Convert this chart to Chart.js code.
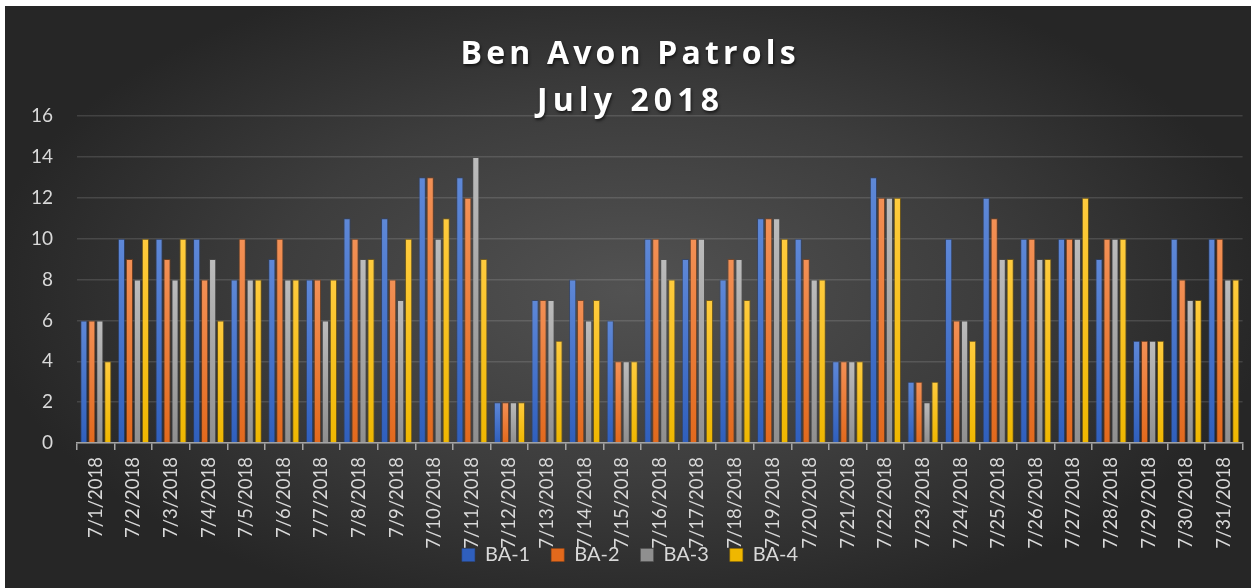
<!DOCTYPE html>
<html>
<head>
<meta charset="utf-8">
<script src="https://cdn.jsdelivr.net/npm/chart.js@4.4.1/dist/chart.umd.min.js"></script>
<style>
	body { margin: 0; background: #fff; }
	#wrap { width: 1253px; height: 588px; position: relative; }
</style>
</head>
<body>
<div id="wrap"><canvas id="canvas0"></canvas></div>
<script>
// Patrol counts per day
var days = ['7/1/2018', '7/2/2018', '7/3/2018', '7/4/2018', '7/5/2018', '7/6/2018', '7/7/2018', '7/8/2018',
	'7/9/2018', '7/10/2018', '7/11/2018', '7/12/2018', '7/13/2018', '7/14/2018', '7/15/2018', '7/16/2018',
	'7/17/2018', '7/18/2018', '7/19/2018', '7/20/2018', '7/21/2018', '7/22/2018', '7/23/2018', '7/24/2018',
	'7/25/2018', '7/26/2018', '7/27/2018', '7/28/2018', '7/29/2018', '7/30/2018', '7/31/2018'];
var ba1 = [6, 10, 10, 10, 8, 9, 8, 11, 11, 13, 13, 2, 7, 8, 6, 10, 9, 8, 11, 10, 4, 13, 3, 10, 12, 10, 10, 9, 5, 10, 10];
var ba2 = [6, 9, 9, 8, 10, 10, 8, 10, 8, 13, 12, 2, 7, 7, 4, 10, 10, 9, 11, 9, 4, 12, 3, 6, 11, 10, 10, 10, 5, 8, 10];
var ba3 = [6, 8, 8, 9, 8, 8, 6, 9, 7, 10, 14, 2, 7, 6, 4, 9, 10, 9, 11, 8, 4, 12, 2, 6, 9, 9, 10, 10, 5, 7, 8];
var ba4 = [4, 10, 10, 6, 8, 8, 8, 9, 10, 11, 9, 2, 5, 7, 4, 8, 7, 7, 10, 8, 4, 12, 3, 5, 9, 9, 12, 10, 5, 7, 8];
var titleLines = ['Ben Avon Patrols', 'July 2018'];

var fontName = 'Lato, "Open Sans", sans-serif';
var textColor = '#d9d9d9';

// Gradient per bar: lighter top, darker bottom
function barFill(top, bottom, flat) {
	return function(context) {
		let chart = context.chart;
		if(!chart.chartArea || !chart.scales.y)
			return flat;
		let y = chart.scales.y;
		let y0 = y.getPixelForValue(0);
		let y1 = y.getPixelForValue(context.raw);
		if(!isFinite(y1) || y1 >= y0)
			return flat;
		let g = chart.ctx.createLinearGradient(0, y1, 0, y0);
		g.addColorStop(0, top);
		g.addColorStop(1, bottom);
		return g;
	};
}

function makeDataset(label, data, top, bottom, flat, edge) {
	return {
		label: label,
		data: data,
		backgroundColor: barFill(top, bottom, flat),
		borderColor: edge,
		borderWidth: 1,
		borderSkipped: 'bottom',
		categoryPercentage: 0.85,
		barPercentage: 0.9
	};
}

var backdrop = {
	id: 'backdrop',
	beforeDraw: function(chart) {
		let ctx = chart.ctx;
		let w = chart.width, h = chart.height;
		ctx.save();
		ctx.fillStyle = '#ffffff';
		ctx.fillRect(0, 0, w, h);
		let x0 = 5, y0 = 6, bw = w - 7, bh = h - 6;
		ctx.beginPath();
		ctx.rect(x0, y0, bw, bh);
		ctx.clip();
		let cx = 630, cy = 290;
		ctx.translate(cx, cy);
		ctx.scale(1.9, 1);
		let g = ctx.createRadialGradient(0, 0, 0, 0, 0, 340);
		g.addColorStop(0, '#525252');
		g.addColorStop(0.55, '#3d3d3d');
		g.addColorStop(1, '#262626');
		ctx.fillStyle = g;
		ctx.fillRect(-cx / 1.9 - 10, -cy - 10, w / 1.9 + 20, h + 20);
		ctx.restore();
	},
	afterLayout: function(chart) {
		// Legend sits a little over the bottom of the date labels, as in the original
		let lg = chart.legend;
		let h = lg.bottom - lg.top;
		lg.top = 524;
		lg.bottom = 524 + h;
	}
};

var titleDraw = {
	id: 'titleDraw',
	afterDraw: function(chart) {
		let ctx = chart.ctx;
		let widths = [335, 182];
		let ys = [55, 102];
		ctx.save();
		ctx.font = 'bold 32px "Open Sans", sans-serif';
		ctx.fillStyle = '#ffffff';
		ctx.textBaseline = 'middle';
		ctx.textAlign = 'left';
		ctx.shadowColor = 'rgba(0,0,0,0.6)';
		ctx.shadowOffsetX = 1;
		ctx.shadowOffsetY = 2;
		ctx.shadowBlur = 3;
		titleLines.forEach((line, i) => {
			ctx.letterSpacing = '0px';
			let plain = ctx.measureText(line).width;
			let sp = (widths[i] - plain) / (line.length - 1);
			ctx.letterSpacing = sp.toFixed(2) + 'px';
			ctx.fillText(line, 628 - widths[i] / 2, ys[i]);
		});
		ctx.restore();
	}
};

var ctx = document.getElementById('canvas0').getContext('2d');
var chartJsOptions = {
	type: 'bar',
	data: {
		labels: days,
		datasets: [
			makeDataset('BA-1', ba1, '#5e88d8', '#2f5fbd', '#4472c4', 'rgba(40,70,130,0.55)'),
			makeDataset('BA-2', ba2, '#f39055', '#e2691c', '#ed7d31', 'rgba(150,70,20,0.55)'),
			makeDataset('BA-3', ba3, '#bcbcbc', '#8f8f8f', '#a5a5a5', 'rgba(80,80,80,0.55)'),
			makeDataset('BA-4', ba4, '#ffcb3d', '#efb700', '#ffc000', 'rgba(150,110,0,0.55)')
		]
	},
	options: {
		responsive: true,
		maintainAspectRatio: false,
		animation: false,
		layout: {
			padding: { left: 7, right: 0, top: 116, bottom: -11 }
		},
		scales: {
			x: {
				offset: true,
				grid: {
					display: true,
					offset: true,
					drawOnChartArea: false,
					drawTicks: true,
					tickLength: 7,
					color: '#a6a6a6',
					lineWidth: 1.5
				},
				border: { display: true, color: '#a6a6a6', width: 1.5 },
				ticks: {
					color: textColor,
					font: { family: fontName, size: 18.5 },
					minRotation: 90,
					maxRotation: 90,
					autoSkip: false,
					padding: 7
				},
				afterFit: function(scale) {
					scale.height = 105;
				}
			},
			y: {
				min: 0,
				max: 16,
				grid: {
					color: 'rgba(255,255,255,0.13)',
					lineWidth: 1.5,
					drawTicks: false
				},
				border: { display: false },
				ticks: {
					stepSize: 2,
					color: textColor,
					font: { family: fontName, size: 19 },
					padding: 24
				}
			}
		},
		plugins: {
			title: { display: false },
			tooltip: { enabled: false },
			legend: {
				position: 'bottom',
				labels: {
					color: textColor,
					font: { family: fontName, size: 20 },
					boxWidth: 13,
					boxHeight: 13,
					padding: 21
				}
			}
		}
	},
	plugins: [backdrop, titleDraw]
};
var patrols = new Chart(ctx, chartJsOptions);
</script>
</body>
</html>
